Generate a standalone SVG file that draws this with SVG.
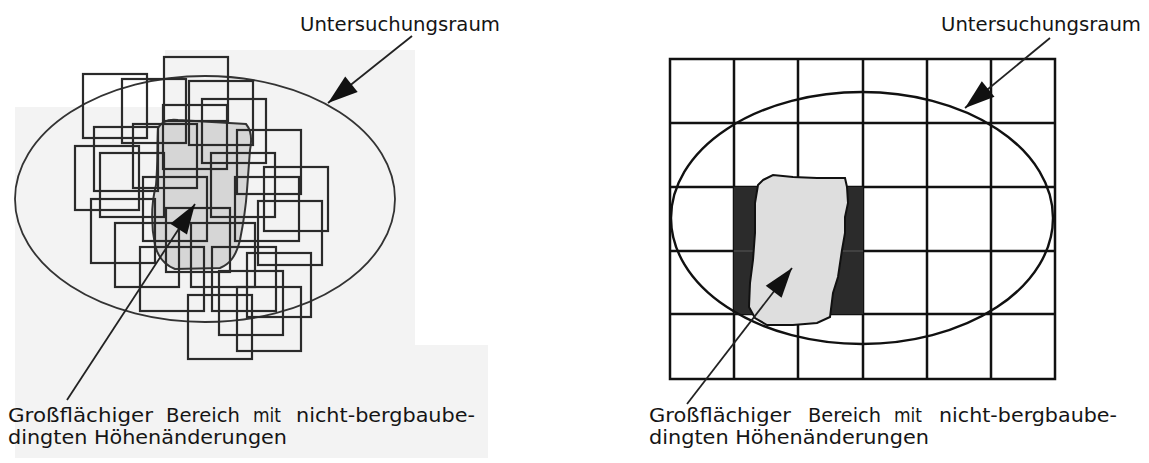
<svg xmlns="http://www.w3.org/2000/svg" width="1149" height="463" viewBox="0 0 1149 463">
  <style>
    .sq { fill: none; stroke: #2a2a2a; stroke-width: 2.2; }
    .ell-l { fill: none; stroke: #333; stroke-width: 1.8; }
    .ell-r { fill: none; stroke: #111; stroke-width: 2.4; }
    .grid { stroke: #111; stroke-width: 2.5; fill: none; }
    .lbl { font-family: "DejaVu Sans", "Liberation Sans", sans-serif; font-size: 19.5px; fill: #151515; }
    .conn { stroke: #222; stroke-width: 1.8; fill: none; marker-end: url(#head); }
  </style>
  <defs>
    <marker id="head" markerUnits="userSpaceOnUse" viewBox="-31 -11 32 22" markerWidth="32" markerHeight="22" refX="0" refY="0" orient="auto">
      <path d="M0,0 L-30,-10 L-30,10 Z" fill="#111"/>
    </marker>
  </defs>
  <rect width="1149" height="463" fill="#ffffff"/>

  <!-- left diagram -->
  <g id="left-diagram">
    <polygon points="165,50 415,50 415,345 488,345 488,458 15,458 15,107 165,107" fill="#f3f3f3"/>
    <path id="left-affected-area" d="M158,128 C162,121 170,119 178,120 L246,124 C251,130 252,140 250,150 L247,190 C246,205 244,220 240,240 C236,256 230,264 220,268 L175,269 C165,265 158,258 155,245 C151,225 151,205 156,185 C158,165 157,145 158,128 Z" fill="#d6d6d6" stroke="#333" stroke-width="2"/>
    <ellipse id="left-study-area" class="ell-l" cx="205" cy="199" rx="190" ry="123"/>
    <g id="left-measurement-fields">
      <rect class="sq" x="83" y="74" width="64" height="64"/>
      <rect class="sq" x="122" y="79" width="64" height="64"/>
      <rect class="sq" x="164" y="57" width="64" height="64"/>
      <rect class="sq" x="189" y="81" width="64" height="64"/>
      <rect class="sq" x="202" y="99" width="64" height="64"/>
      <rect class="sq" x="163" y="105" width="64" height="64"/>
      <rect class="sq" x="133" y="124" width="64" height="64"/>
      <rect class="sq" x="94" y="127" width="64" height="64"/>
      <rect class="sq" x="75" y="146" width="64" height="64"/>
      <rect class="sq" x="100" y="153" width="64" height="64"/>
      <rect class="sq" x="91" y="199" width="64" height="64"/>
      <rect class="sq" x="115" y="223" width="64" height="64"/>
      <rect class="sq" x="140" y="247" width="64" height="64"/>
      <rect class="sq" x="188" y="295" width="64" height="64"/>
      <rect class="sq" x="143" y="177" width="64" height="64"/>
      <rect class="sq" x="237" y="130" width="64" height="64"/>
      <rect class="sq" x="211" y="153" width="64" height="64"/>
      <rect class="sq" x="264" y="167" width="64" height="64"/>
      <rect class="sq" x="235" y="177" width="64" height="64"/>
      <rect class="sq" x="258" y="201" width="64" height="64"/>
      <rect class="sq" x="247" y="253" width="64" height="64"/>
      <rect class="sq" x="237" y="287" width="64" height="64"/>
      <rect class="sq" x="219" y="271" width="64" height="64"/>
      <rect class="sq" x="212" y="247" width="64" height="64"/>
      <rect class="sq" x="191" y="223" width="64" height="64"/>
      <rect class="sq" x="166" y="208" width="64" height="64"/>
    </g>
  </g>

  <!-- right diagram -->
  <g id="right-diagram">
    <g id="right-grid" class="grid">
      <rect x="670" y="59" width="385" height="320"/>
      <line x1="734" y1="59" x2="734" y2="379"/>
      <line x1="798" y1="59" x2="798" y2="379"/>
      <line x1="863" y1="59" x2="863" y2="379"/>
      <line x1="927" y1="59" x2="927" y2="379"/>
      <line x1="991" y1="59" x2="991" y2="379"/>
      <line x1="670" y1="123" x2="1055" y2="123"/>
      <line x1="670" y1="187" x2="1055" y2="187"/>
      <line x1="670" y1="251" x2="1055" y2="251"/>
      <line x1="670" y1="314" x2="1055" y2="314"/>
    </g>
    <rect id="right-affected-cells" x="734" y="187" width="129" height="127" fill="#2b2b2b"/>
    <line x1="734" y1="251" x2="863" y2="251" stroke="#4a4a4a" stroke-width="1.5"/>
    <ellipse id="right-study-area" class="ell-r" cx="862" cy="218" rx="191" ry="126"/>
    <path id="right-affected-area" d="M763,180 L773,175 L793,177 L817,178 L845,178 L847,187 L848,203 L845,217 L845,233 L842,250 L838,277 L833,293 L830,317 L817,323 L793,325 L767,325 L755,318 L749,307 L750,283 L753,260 L755,233 L755,203 L758,185 Z" fill="#dedede" stroke="#111" stroke-width="2"/>
  </g>

  <!-- connectors -->
  <g id="connectors">
    <line class="conn" x1="412" y1="36" x2="328" y2="103"/>
    <line class="conn" x1="67" y1="400" x2="195" y2="204"/>
    <line class="conn" x1="1050" y1="38" x2="965" y2="108"/>
    <line class="conn" x1="687" y1="404" x2="792" y2="268"/>
  </g>

  <!-- labels -->
  <g id="label-left-study">
    <text class="lbl" x="300" y="31" textLength="200" lengthAdjust="spacingAndGlyphs">Untersuchungsraum</text>
  </g>
  <g id="label-right-study">
    <text class="lbl" x="941" y="31" textLength="200" lengthAdjust="spacingAndGlyphs">Untersuchungsraum</text>
  </g>
  <g id="label-left-area">
    <text class="lbl" x="8" y="422" textLength="145" lengthAdjust="spacingAndGlyphs">Großflächiger</text>
    <text class="lbl" x="166" y="422" textLength="74" lengthAdjust="spacingAndGlyphs">Bereich</text>
    <text class="lbl" x="253" y="422" textLength="28" lengthAdjust="spacingAndGlyphs">mit</text>
    <text class="lbl" x="296" y="422" textLength="179" lengthAdjust="spacingAndGlyphs">nicht-bergbaube-</text>
    <text class="lbl" x="8" y="444" textLength="279" lengthAdjust="spacingAndGlyphs">dingten Höhenänderungen</text>
  </g>
  <g id="label-right-area">
    <text class="lbl" x="649" y="422" textLength="142" lengthAdjust="spacingAndGlyphs">Großflächiger</text>
    <text class="lbl" x="808" y="422" textLength="73" lengthAdjust="spacingAndGlyphs">Bereich</text>
    <text class="lbl" x="894" y="422" textLength="28" lengthAdjust="spacingAndGlyphs">mit</text>
    <text class="lbl" x="939" y="422" textLength="178" lengthAdjust="spacingAndGlyphs">nicht-bergbaube-</text>
    <text class="lbl" x="649" y="444" textLength="280" lengthAdjust="spacingAndGlyphs">dingten Höhenänderungen</text>
  </g>
</svg>
